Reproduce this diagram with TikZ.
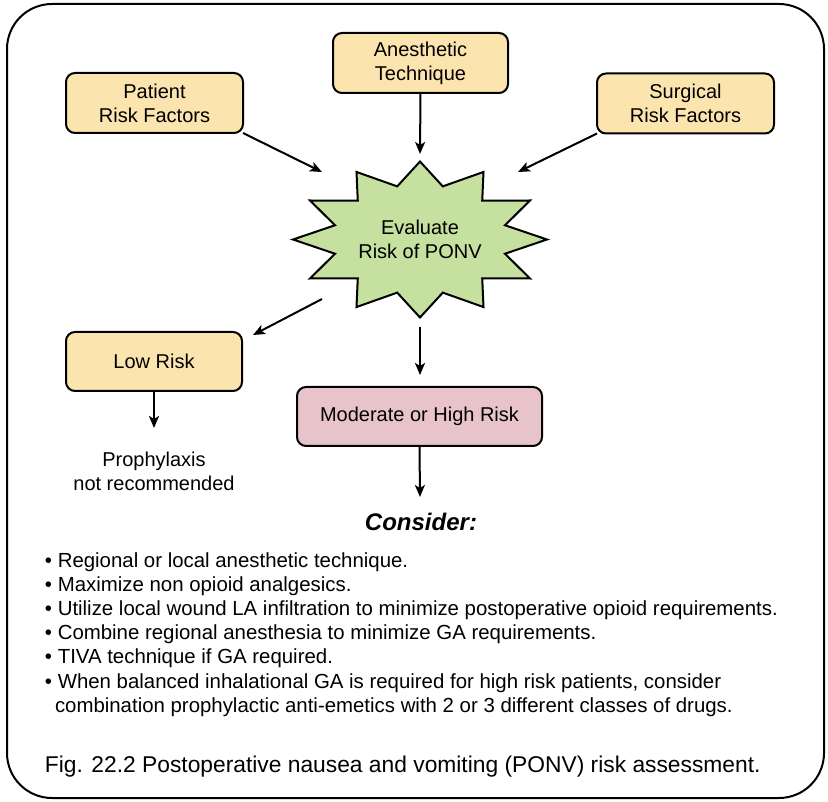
\documentclass[tikz,border=0pt]{standalone}
\usepackage{fontspec}
\setmainfont{Liberation Sans}
\usetikzlibrary{arrows.meta}
\definecolor{boxorange}{RGB}{252,228,174}
\definecolor{boxpink}{RGB}{232,196,202}
\definecolor{burstgreen}{RGB}{198,224,160}

\begin{document}
\begin{tikzpicture}[x=1pt,y=-1pt,
  every node/.style={inner sep=0pt, outer sep=0pt},
  box/.style={draw, line width=2pt, rounded corners=9pt, align=center,
    font=\fontsize{20}{24}\selectfont},
  factorbox/.style={box, fill=boxorange, minimum width=177pt, minimum height=60pt},
  riskbox/.style={box, minimum height=59pt},
  arr/.style={line width=2pt, -{Stealth[length=12pt,width=10pt,inset=3pt]}},
  plain/.style={align=center, font=\fontsize{20}{24}\selectfont},
  bullet/.style={anchor=base west, font=\fontsize{20.4}{24}\selectfont},
]
\useasboundingbox (0,0) rectangle (828,802);

% outer frame
\draw[line width=2pt, rounded corners=45pt] (7,4) rectangle (824,798);

% risk factor boxes
\node[factorbox] (pat)  at (154.5,103)  {Patient\\Risk Factors};
\node[factorbox, minimum width=175pt] (anes) at (420.5,63) {Anesthetic\\Technique};
\node[factorbox] (surg) at (685.5,103.5) {Surgical\\Risk Factors};

% central starburst
\draw[line width=2pt, fill=burstgreen, line join=miter, shift={(420,239.5)}]
  (0:127 and 78)
  \foreach \a in {0,30,...,330} { -- (\a+15:88 and 55) -- (\a+30:127 and 78) }
  -- cycle;
\node[plain] (eval) at (420,239) {Evaluate\\Risk of PONV};

% outcome boxes
\node[riskbox, fill=boxorange, minimum width=176pt] (low) at (154,361.5) {Low Risk};
\node[riskbox, fill=boxpink, minimum width=245pt] (mod) at (419.5,416.5) {Moderate or High Risk};

\node[plain] (proph) at (154,471) {Prophylaxis\\not recommended};
\node[font=\fontsize{24}{28}\selectfont\bfseries\itshape] (consider) at (421,522) {Consider:};

% connector end points around the starburst
\coordinate (tipPat)  at (322,172);
\coordinate (tipAnes) at (420,154);
\coordinate (tipSurg) at (518,172);
\coordinate (outLow)  at (322,299);
\coordinate (tipLow)  at (253,335);
\coordinate (outMod)  at (420,327);
\coordinate (tipMod)  at (420,375);
\coordinate (tipProph) at (154,428);
\coordinate (tipCons) at (420,497);

\draw[arr] (pat.south east) -- (tipPat);
\draw[arr] (anes.south) -- (tipAnes);
\draw[arr] (surg.south west) -- (tipSurg);
\draw[arr] (outLow) -- (tipLow);
\draw[arr] (outMod) -- (tipMod);
\draw[arr] (low.south) -- (tipProph);
\draw[arr] (mod.south) -- (tipCons);

% recommendations
\node[bullet] (b1) at (45,567)   {• Regional or local anesthetic technique.};
\node[bullet] (b2) at (45,591.2) {• Maximize non opioid analgesics.};
\node[bullet] (b3) at (45,615.4) {• Utilize local wound LA infiltration to minimize postoperative opioid requirements.};
\node[bullet] (b4) at (45,639.6) {• Combine regional anesthesia to minimize GA requirements.};
\node[bullet] (b5) at (45,663.8) {• TIVA technique if GA required.};
\node[bullet] (b6) at (45,688)   {• When balanced inhalational GA is required for high risk patients, consider};
\node[bullet] (b7) at (55,712.2) {combination prophylactic anti-emetics with 2 or 3 different classes of drugs.};

% caption
\node[anchor=base west, font=\fontsize{22.8}{27}\selectfont] (caption) at (45,772)
  {Fig. 22.2 Postoperative nausea and vomiting (PONV) risk assessment.};
\end{tikzpicture}
\end{document}
